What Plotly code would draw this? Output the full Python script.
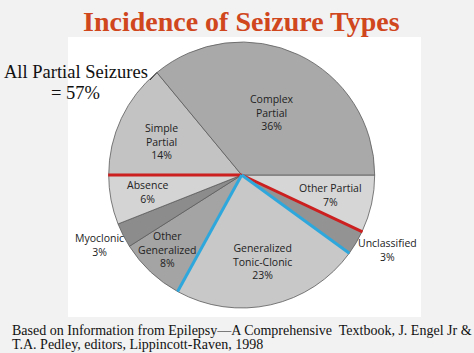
import math
import plotly.graph_objects as go

# ---- data ----
slice_labels = ["Other Partial", "Unclassified", "Generalized Tonic-Clonic",
                "Other Generalized", "Myoclonic", "Absence", "Simple Partial",
                "Complex Partial"]
slice_values = [7, 3, 23, 8, 3, 6, 14, 36]
slice_colors = ["#d6d6d6", "#939393", "#c8c8c8", "#a4a4a4", "#8c8c8c",
                "#d4d4d4", "#c3c3c3", "#a9a9a9"]
label_lines = [["Other Partial", "7%"], ["Unclassified", "3%"],
               ["Generalized", "Tonic-Clonic", "23%"],
               ["Other", "Generalized", "8%"], ["Myoclonic", "3%"],
               ["Absence", "6%"], ["Simple", "Partial", "14%"],
               ["Complex", "Partial", "36%"]]
# label block centre positions (pixels)
label_pos = [(330, 195), (387, 250), (262, 261), (167, 249), (99, 245),
             (147, 192), (161, 141), (272, 112)]
red_after = ["Other Partial", "Absence"]        # boundaries after these slices
blue_after = ["Unclassified", "Generalized Tonic-Clonic"]

W, H = 474, 353
CX, CY, R = 241.7, 175.0, 133.0
START = 90.0  # degrees clockwise from 12 o'clock


def px(x):
    return x / W


def py(y):
    return 1 - y / H


def edge(angle_deg, r):
    a = math.radians(angle_deg)
    return CX + r * math.sin(a), CY - r * math.cos(a)


total = sum(slice_values)
cum = {}
acc = START
for lab, v in zip(slice_labels, slice_values):
    acc += v / total * 360
    cum[lab] = acc

fig = go.Figure()
fig.add_trace(go.Pie(
    labels=slice_labels, values=slice_values, sort=False,
    direction="clockwise", rotation=START,
    marker=dict(colors=slice_colors, line=dict(color="#5c5c5c", width=0.8)),
    textinfo="none", hoverinfo="label+percent", showlegend=False,
    domain=dict(x=[px(CX - R), px(CX + R)], y=[py(CY + R), py(CY - R)]),
))

shapes = [dict(type="rect", xref="paper", yref="paper", layer="below",
               x0=px(68), x1=px(421), y0=py(317), y1=py(37),
               fillcolor="#ffffff", line=dict(width=0))]
for lab in red_after:
    x1, y1 = edge(cum[lab], R + 0.5)
    shapes.append(dict(type="line", xref="paper", yref="paper",
                       x0=px(CX), y0=py(CY), x1=px(x1), y1=py(y1),
                       line=dict(color="#cc1f1f", width=3)))
for lab in blue_after:
    x1, y1 = edge(cum[lab], R)
    shapes.append(dict(type="line", xref="paper", yref="paper",
                       x0=px(CX), y0=py(CY), x1=px(x1), y1=py(y1),
                       line=dict(color="#2ea8dc", width=3)))
# leader line from "All Partial Seizures" to the pie
lx, ly = edge(cum["Simple Partial"], R)
shapes.append(dict(type="line", xref="paper", yref="paper",
                   x0=px(150), y0=py(80), x1=px(lx), y1=py(ly),
                   line=dict(color="#333333", width=1)))

annotations = []
for lines, (x, y) in zip(label_lines, label_pos):
    annotations.append(dict(
        text="<br>".join(lines), x=px(x), y=py(y), xref="paper",
        yref="paper", showarrow=False, xanchor="center", yanchor="middle",
        align="center",
        font=dict(family="Open Sans", size=10.5, color="#222222")))

annotations += [
    dict(text="<b>Incidence of Seizure Types</b>", x=px(241), y=py(21),
         xref="paper", yref="paper", showarrow=False, xanchor="center",
         yanchor="middle",
         font=dict(family="Liberation Serif", size=28, color="#d0461d")),
    dict(text="All Partial Seizures", x=px(76), y=py(72), xref="paper",
         yref="paper", showarrow=False, xanchor="center", yanchor="middle",
         font=dict(family="Liberation Serif", size=18.5, color="#111111")),
    dict(text="= 57%", x=px(75), y=py(93), xref="paper", yref="paper",
         showarrow=False, xanchor="center", yanchor="middle",
         font=dict(family="Liberation Serif", size=18.5, color="#111111")),
    dict(text="Based on Information from Epilepsy\u2014A Comprehensive  Textbook, J. Engel Jr &",
         x=px(10), y=py(330), xref="paper", yref="paper", showarrow=False,
         xanchor="left", yanchor="middle",
         font=dict(family="Liberation Serif", size=14, color="#111111")),
    dict(text="T.A. Pedley, editors, Lippincott-Raven, 1998",
         x=px(10), y=py(344), xref="paper", yref="paper", showarrow=False,
         xanchor="left", yanchor="middle",
         font=dict(family="Liberation Serif", size=14, color="#111111")),
]

fig.update_layout(width=W, height=H, margin=dict(l=0, r=0, t=0, b=0),
                  paper_bgcolor="#f2f2f2", plot_bgcolor="#f2f2f2",
                  shapes=shapes, annotations=annotations)
fig.write_html("out.html")
